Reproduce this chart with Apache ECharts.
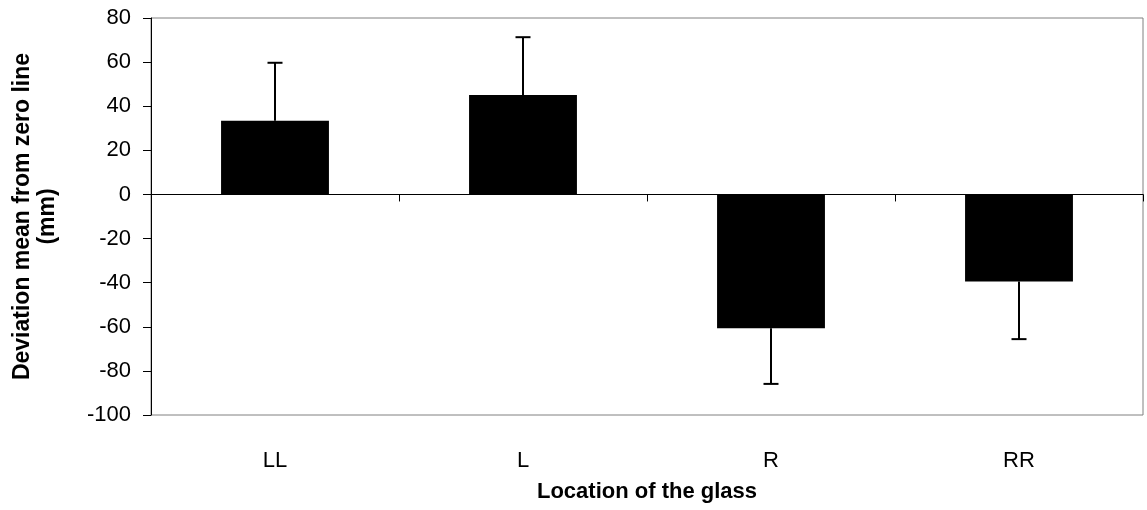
<!DOCTYPE html>
<html>
<head>
<meta charset="utf-8">
<script src="https://cdn.jsdelivr.net/npm/echarts@6/dist/echarts.min.js"></script>
<style>
html,body{margin:0;padding:0;background:#fff;}
#chart{width:1147px;height:510px;}
</style>
</head>
<body>
<div id="chart"></div>
<script>
const categories = ['LL', 'L', 'R', 'RR'];
const meanValues = [33.4, 45.1, -60.7, -39.5];
const errorEnds = [59.7, 71.3, -85.9, -65.6];
const yTicks = { min: -100, max: 80, interval: 20 };

const chart = echarts.init(document.getElementById('chart'));
const font = 'Liberation Sans, Arial, Helvetica, sans-serif';

const errData = categories.map((c, i) => [i, meanValues[i], errorEnds[i]]);

chart.setOption({
  animation: false,
  backgroundColor: '#ffffff',
  grid: {
    left: 151, right: 4, top: 18, bottom: 95,
    outerBoundsMode: 'none', containLabel: false,
    show: true, borderColor: '#808080', borderWidth: 1, backgroundColor: 'transparent'
  },
  xAxis: [
    {
      type: 'category', data: categories, position: 'bottom',
      axisLine: { onZero: true, lineStyle: { color: '#000', width: 1 } },
      axisTick: { show: true, length: 7, inside: false, lineStyle: { color: '#000' } },
      axisLabel: { show: false },
      splitLine: { show: false }
    },
    {
      type: 'category', data: categories, position: 'bottom',
      axisLine: { show: false, onZero: false },
      axisTick: { show: false },
      axisLabel: { show: true, margin: 35, color: '#000', fontSize: 22, fontFamily: font },
      name: 'Location of the glass', nameLocation: 'middle', nameGap: 66,
      nameTextStyle: { color: '#000', fontSize: 22, fontWeight: 'bold', fontFamily: font },
      splitLine: { show: false }
    }
  ],
  yAxis: {
    type: 'value', min: yTicks.min, max: yTicks.max, interval: yTicks.interval,
    axisLine: { show: true, lineStyle: { color: '#000', width: 1 } },
    axisTick: { show: true, length: 8, lineStyle: { color: '#000' } },
    axisLabel: { color: '#000', fontSize: 22, fontFamily: font, margin: 20 },
    splitLine: { show: false },
    name: 'Deviation mean from zero line\n(mm)', nameLocation: 'middle', nameGap: 91,
    nameTextStyle: { color: '#000', fontSize: 23, fontWeight: 'bold', fontFamily: font, lineHeight: 25, align: 'center' }
  },
  series: [
    {
      type: 'bar', xAxisIndex: 0, data: meanValues, barWidth: '43.5%',
      itemStyle: { color: '#000' }, z: 2
    },
    {
      type: 'custom', xAxisIndex: 0, data: errData, z: 3,
      renderItem: function (params, api) {
        const x = api.value(0);
        const p0 = api.coord([x, api.value(1)]);
        const p1 = api.coord([x, api.value(2)]);
        const half = 7.5;
        const style = { stroke: '#000', lineWidth: 2 };
        return {
          type: 'group',
          children: [
            { type: 'line', shape: { x1: p0[0], y1: p0[1], x2: p1[0], y2: p1[1] }, style: style },
            { type: 'line', shape: { x1: p1[0] - half, y1: p1[1], x2: p1[0] + half, y2: p1[1] }, style: style }
          ]
        };
      }
    }
  ]
});
</script>
</body>
</html>
